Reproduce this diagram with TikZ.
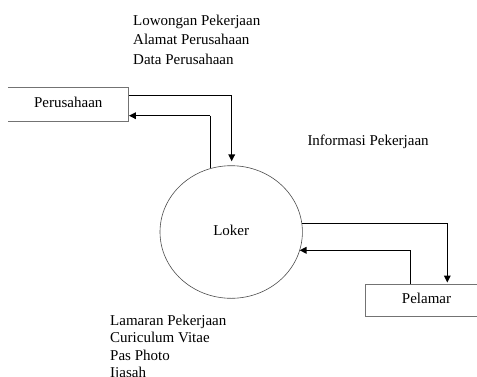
\documentclass[tikz,border=0pt]{standalone}
\usepackage{fontspec}
\setmainfont{Liberation Serif}
\usetikzlibrary{positioning}
\usetikzlibrary{shapes}
\usetikzlibrary{arrows.meta}

\begin{document}
\begin{tikzpicture} [x=1pt, y=-1pt,
            flow/.style={black, line width=0.7pt},
            outpt/.style={-{Triangle[length=7pt,width=6.5pt]}, black, line width=1.5pt},
            sides/.style={black!55, line width=1pt},
            entity/.style={rectangle, inner sep=0pt, text height=10pt, text depth=4.4pt},
            every node/.append style={font=\fontsize{15}{19.7}\selectfont, align=left}]
\useasboundingbox (0,0) rectangle (477,376);

\node (perusahaan) at (68.3,104.5) [entity, minimum width=120.7pt, minimum height=33.6pt] {Perusahaan}
node (pelamar) at (426.5,300.5) [entity, minimum width=121pt, minimum height=32.4pt] {Pelamar}
node (loker) at (231.2,232) [ellipse, draw=black!70, line width=0.6pt, inner sep=0pt,
      minimum width=142.4pt, minimum height=132.6pt, text height=10pt, text depth=3.4pt] {Loker}
node (dataperusahaan) at (133,14.4) [anchor=north west, inner sep=0pt] {Lowongan Pekerjaan\\Alamat Perusahaan\\Data Perusahaan}
node (infokerja) at (307.3,134.8) [anchor=north west, inner sep=0pt] {Informasi Pekerjaan}
node (lamaran) at (110,314.8) [anchor=north west, inner sep=0pt, font=\fontsize{15}{17.4}\selectfont] {Lamaran Pekerjaan\\Curiculum Vitae\\Pas Photo\\Ijasah}
;
%\draw [red] (perusahaan.north west) rectangle (perusahaan.south east);

% open sides of the two entities
\draw [sides] (perusahaan.north west) -- (perusahaan.north east) -- (perusahaan.south east) -- (perusahaan.south west);
\draw [sides] (pelamar.north east) -- (pelamar.north west) -- (pelamar.south west) -- (pelamar.south east);

\coordinate (c1) at (231.7,95.7);
\coordinate (c2) at (210.7,115.7);
\coordinate (c3) at (447.3,221.7);
\coordinate (c4) at (410.3,250.3);

\draw [flow] (perusahaan.east |- c1) -- (c1);
\draw [outpt, shorten >=4pt] (c1) -- (c1 |- loker.north);
\draw [flow] (loker.108) -- (loker.108 |- c2);
\draw [outpt] (loker.108 |- c2) -- (perusahaan.east |- c2);
\draw [flow] (loker.7) -- (loker.7 -| c3);
\draw [outpt, shorten >=1.5pt] (loker.7 -| c3) -- (c3 |- pelamar.north);
\draw [flow] (pelamar.north -| c4) -- (c4);
\draw [outpt] (c4) -- (c4 -| loker.-16);
\end{tikzpicture}
\end{document}
